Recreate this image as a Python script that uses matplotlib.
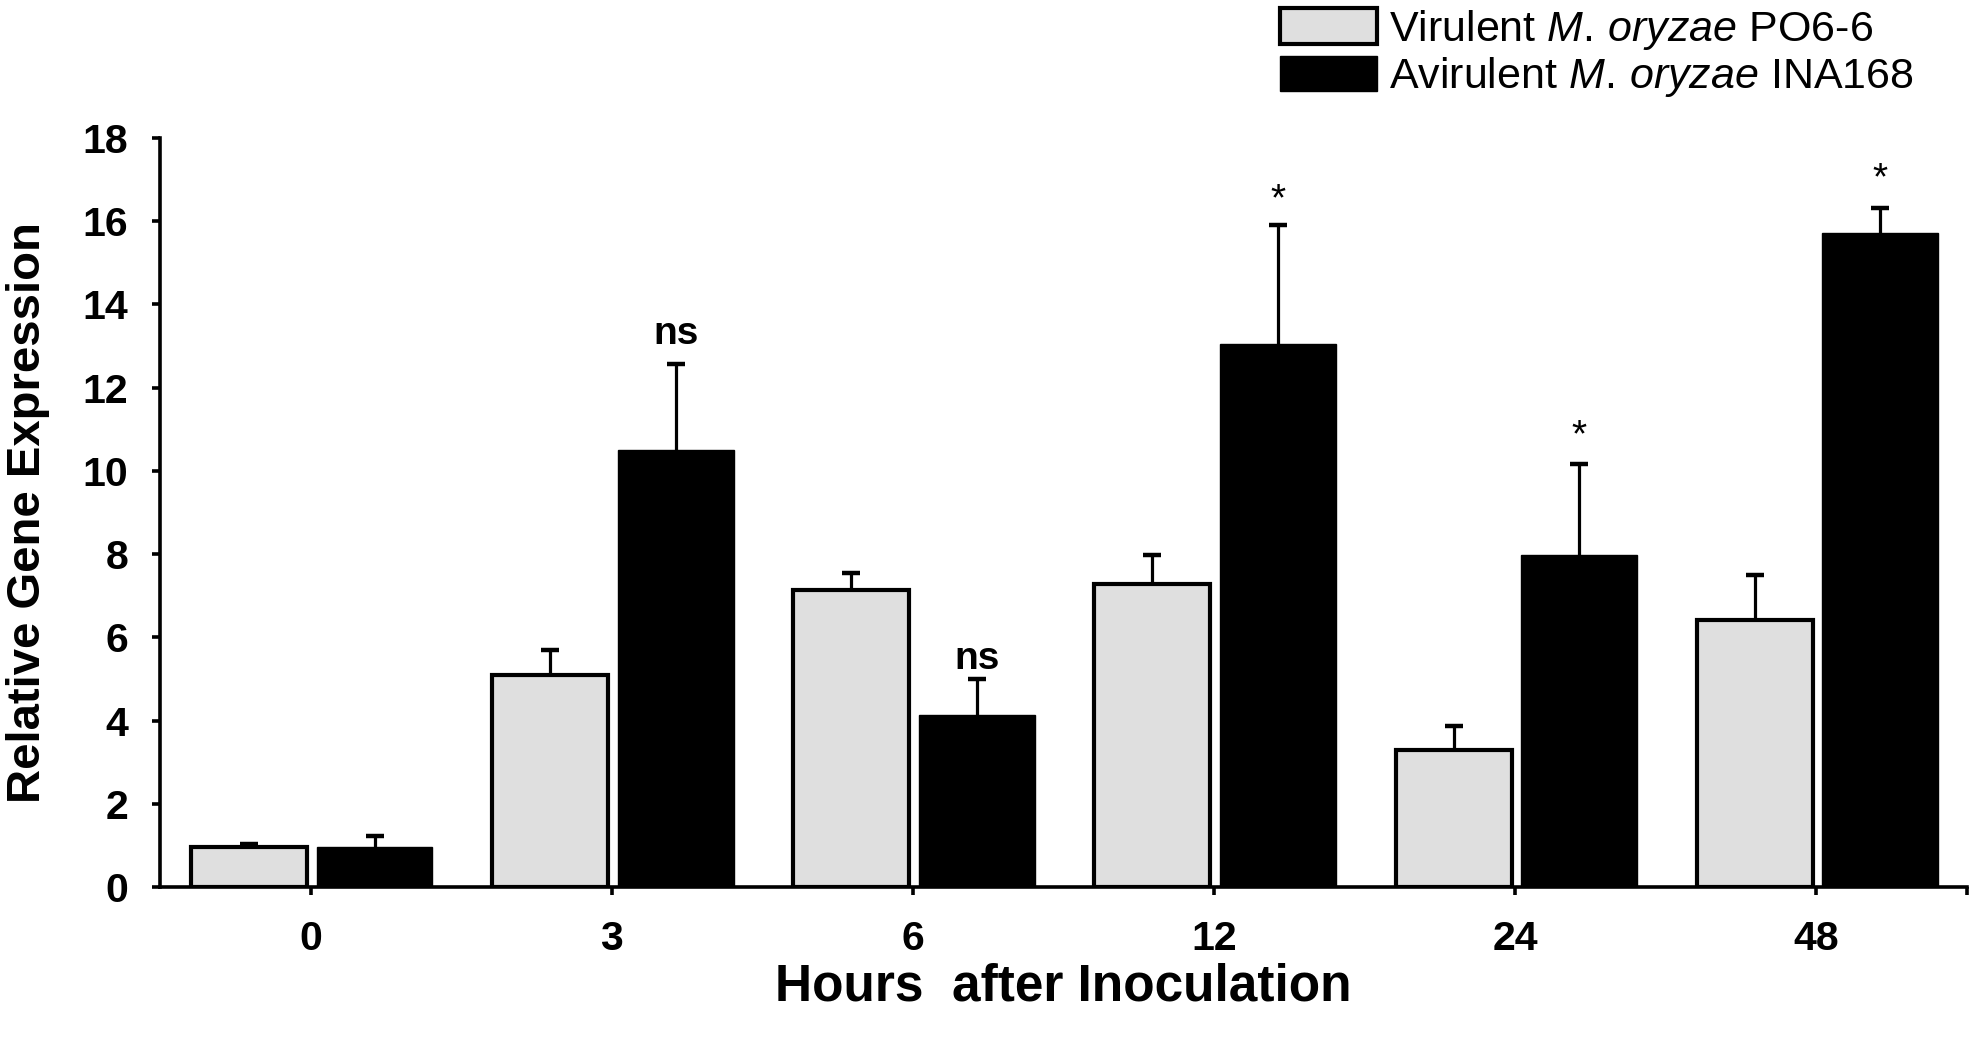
import matplotlib
matplotlib.use("Agg")
import matplotlib.pyplot as plt
import numpy as np

plt.rcParams['font.family'] = ['Liberation Sans', 'DejaVu Sans']
plt.rcParams['mathtext.fontset'] = 'custom'
plt.rcParams['mathtext.rm'] = 'Liberation Sans'
plt.rcParams['mathtext.it'] = 'Liberation Sans:italic'

# ---- data ----
hours = ["0", "3", "6", "12", "24", "48"]
virulent = [0.97, 5.09, 7.13, 7.27, 3.28, 6.42]
virulent_err = [0.07, 0.60, 0.41, 0.72, 0.60, 1.08]
avirulent = [0.95, 10.50, 4.14, 13.05, 7.97, 15.71]
avirulent_err = [0.28, 2.07, 0.86, 2.85, 2.20, 0.62]
sig_labels = ["", "ns", "ns", "*", "*", "*"]
sig_y = [None, 13.06, 5.25, 16.26, 10.59, 16.76]
series_names = [r"Virulent $\it{M.\,oryzae}$ PO6-6",
                r"Avirulent $\it{M.\,oryzae}$ INA168"]
yticks = [0, 2, 4, 6, 8, 10, 12, 14, 16, 18]

fig = plt.figure(figsize=(19.69, 10.37), dpi=100)
ax = fig.add_axes([0.0813, 0.1447, 0.999 - 0.0813, 0.8669 - 0.1447])

x = np.arange(len(hours))
width = 0.385
grey_off, black_off = -0.205, 0.212

ekw = dict(elinewidth=2.3, capthick=3.2, capsize=6.5, ecolor='black')
b1 = ax.bar(x + grey_off, virulent, width, color='#dfdfdf', edgecolor='black',
            linewidth=3.0, yerr=[np.zeros(len(x)), virulent_err], error_kw=ekw,
            label=series_names[0], zorder=2)
b2 = ax.bar(x + black_off, avirulent, width, color='black', edgecolor='black',
            linewidth=1.0, yerr=[np.zeros(len(x)), avirulent_err], error_kw=ekw,
            label=series_names[1], zorder=2)
# hide the lower caps (errors are drawn upward only)
for bc in (b1, b2):
    caps = bc.errorbar.lines[1]
    if len(caps) > 1:
        caps[0].set_visible(False)

for xi, lab, yy in zip(x, sig_labels, sig_y):
    if lab:
        ax.text(xi + black_off, yy, lab, ha='center', va='baseline',
                fontsize=28, fontweight='bold' if lab == 'ns' else 'normal')

ax.set_xlim(-0.5, 5.5)
ax.set_ylim(0, 18)
ax.set_yticks(yticks)
ax.set_yticklabels([str(t) for t in yticks])
ax.set_xticks(x)
ax.set_xticklabels(hours)
ax.set_xticks([5.5], minor=True)

for s in ['top', 'right']:
    ax.spines[s].set_visible(False)
for s in ['left', 'bottom']:
    ax.spines[s].set_linewidth(2.6)

ax.tick_params(axis='both', which='both', direction='out', length=6, width=2.6)
ax.tick_params(axis='y', labelsize=29.5, pad=17)
ax.tick_params(axis='x', labelsize=29.5, pad=18)
for lab in ax.get_xticklabels() + ax.get_yticklabels():
    lab.set_fontweight('bold')

ax.set_ylabel("Relative Gene Expression", fontsize=34, fontweight='bold')
ax.yaxis.set_label_coords(-0.061, 0.5)
ax.set_xlabel("Hours  after Inoculation", fontsize=37, fontweight='bold', va='top')
ax.xaxis.set_label_coords(0.5, -0.101)

fig.legend(handles=[b1, b2], labels=series_names, loc='upper left',
           bbox_to_anchor=(1280 / 1969, 1 - 8 / 1037), frameon=False,
           fontsize=31, borderpad=0, borderaxespad=0, handlelength=2.25,
           handleheight=0.9, handletextpad=0.28, labelspacing=0.08)

fig.savefig("out.png", dpi=100)
